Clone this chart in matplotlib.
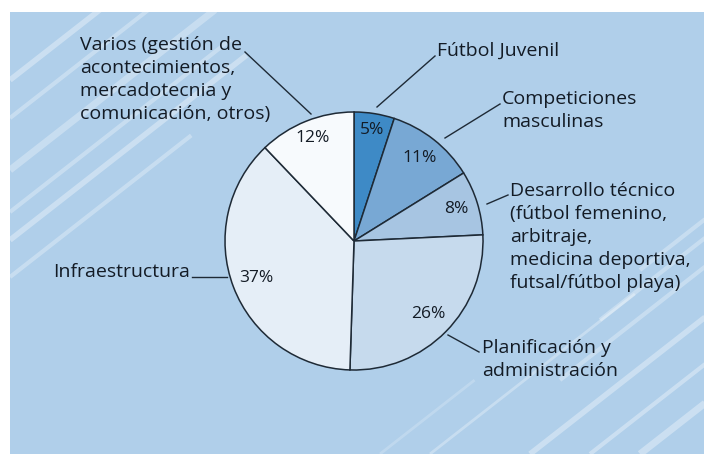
import matplotlib
matplotlib.use("Agg")
import matplotlib.pyplot as plt
import numpy as np
from matplotlib.patches import Rectangle

# ---- data ----
categories = [
    "Fútbol Juvenil",
    "Competiciones\nmasculinas",
    "Desarrollo técnico\n(fútbol femenino,\narbitraje,\nmedicina deportiva,\nfutsal/fútbol playa)",
    "Planificación y\nadministración",
    "Infraestructura",
    "Varios (gestión de\nacontecimientos,\nmercadotecnia y\ncomunicación, otros)",
]
values = [5, 11, 8, 26, 37, 12]
pct_labels = ["5%", "11%", "8%", "26%", "37%", "12%"]
colors = ["#3e8ac6", "#78a8d4", "#a7c5e2", "#c6daed", "#e5eef7", "#f7fafd"]

W, H = 704, 454
fig = plt.figure(figsize=(W / 100, H / 100), dpi=100)
fig.patch.set_facecolor("white")
ax = fig.add_axes([0, 0, 1, 1])
ax.set_xlim(0, W)
ax.set_ylim(0, H)
ax.set_aspect("equal")
ax.axis("off")

def Y(y):  # pixel-from-top -> data
    return H - y

BG = "#b0cfea"
ax.add_patch(Rectangle((10, 0), W - 10, H - 12, facecolor=BG, edgecolor="none", zorder=0))

# decorative diagonal stripes
ang = np.deg2rad(38)
def stripe(x0, y0, length, lw, alpha):
    x1 = x0 + length * np.cos(ang)
    y1 = y0 - length * np.sin(ang)
    xs = np.array([x0, x1]); ys = np.array([y0, y1])
    ax.plot(xs, Y(ys), color="white", lw=lw, alpha=alpha, solid_capstyle="butt", zorder=1)

clip = Rectangle((10, 0), W - 10, H - 12, transform=ax.transData)
for (y0, L, lw, a) in [(80, 130, 4, 0.35), (118, 200, 3, 0.3), (170, 260, 5, 0.3),
                       (212, 280, 3, 0.3), (240, 300, 4, 0.35), (277, 230, 3, 0.3)]:
    stripe(10, y0, L, lw, a)
for (x0, y0, L, lw, a) in [(430, 454, 260, 2, 0.3), (530, 454, 250, 4, 0.35),
                           (590, 454, 200, 3, 0.35), (640, 454, 150, 5, 0.35),
                           (560, 380, 200, 3, 0.3), (600, 320, 160, 3, 0.3),
                           (640, 270, 100, 3, 0.3), (380, 454, 120, 2, 0.2)]:
    stripe(x0, y0, L, lw, a)
for ln in ax.lines:
    ln.set_clip_path(clip)

# ---- pie ----
cx, cy, R = 354, 241, 129
wedges, _ = ax.pie(values, colors=colors, startangle=90, counterclock=False,
                   center=(cx, Y(cy)), radius=R, frame=True,
                   wedgeprops=dict(edgecolor="#1e2a36", linewidth=1.1))
for w in wedges:
    w.set_zorder(3)
ax.set_xlim(0, W)
ax.set_ylim(0, H)
ax.axis("off")

txt_color = "#131b25"
font = "Open Sans"
fs = 14

pct_r = [0.87, 0.82, 0.83, 0.81, 0.81, 0.86]
for w, lab, fr in zip(wedges, pct_labels, pct_r):
    th = np.deg2rad((w.theta1 + w.theta2) / 2)
    ax.text(cx + R * fr * np.cos(th), Y(cy) + R * fr * np.sin(th), lab,
            ha="center", va="center", fontsize=12.5, family=font, color=txt_color, zorder=5)

# ---- outside labels ----
label_pos = [(437, 50), (502, 98), (510, 190), (482, 347), (53, 271), (80, 44)]
leaders = [
    [(435, 56), (377, 107)],
    [(500, 104), (445, 138)],
    [(508, 195), (487, 204)],
    [(479, 352), (448, 335)],
    [(192, 277), (227, 277)],
    [(245, 52), (311, 114)],
]
for lab, (x, y), ld in zip(categories, label_pos, leaders):
    ax.text(x, Y(y) + 8, lab, ha="left", va="top", fontsize=fs, family=font,
            color=txt_color, linespacing=1.36, zorder=5)
    (x0, y0), (x1, y1) = ld
    ax.plot([x0, x1], [Y(y0), Y(y1)], color="#1e2a36", lw=1.0, zorder=4)

fig.savefig("out.png", dpi=100, facecolor=fig.get_facecolor())
